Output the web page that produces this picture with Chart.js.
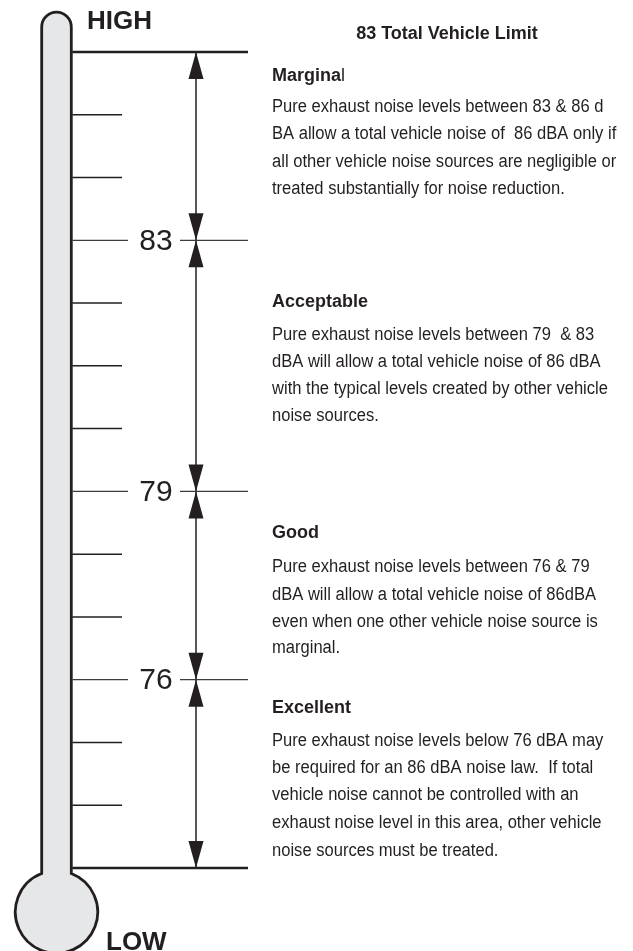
<!DOCTYPE html>
<html><head><meta charset="utf-8">
<script src="https://cdn.jsdelivr.net/npm/chart.js@4.4.1/dist/chart.umd.min.js"></script>
<style>html,body{margin:0;padding:0;background:#fff}#wrap{width:633px;height:951px;position:relative}</style>
</head><body><div id="wrap"><canvas id="c"></canvas></div>
<script>
// ---- data ----
const scaleMax = 86, scaleMin = 73;
const boundaryLevels = [86, 73];
const labeledLevels = [83, 79, 76];
const levelLabels = ['83', '79', '76'];
const minorTicks = [85, 84, 82, 81, 80, 78, 77, 75, 74];
const zoneNames = ['Marginal', 'Acceptable', 'Good', 'Excellent'];
const zoneHigh = [86, 83, 79, 76];
const zoneLow = [83, 79, 76, 73];
const zoneText = [
  ['Pure exhaust noise levels between 83 & 86 d',
   'BA allow a total vehicle noise of  86 dBA only if',
   'all other vehicle noise sources are negligible or',
   'treated substantially for noise reduction.'],
  ['Pure exhaust noise levels between 79  & 83',
   'dBA will allow a total vehicle noise of 86 dBA',
   'with the typical levels created by other vehicle',
   'noise sources.'],
  ['Pure exhaust noise levels between 76 & 79',
   'dBA will allow a total vehicle noise of 86dBA',
   'even when one other vehicle noise source is',
   'marginal.'],
  ['Pure exhaust noise levels below 76 dBA may',
   'be required for an 86 dBA noise law.  If total',
   'vehicle noise cannot be controlled with an',
   'exhaust noise level in this area, other vehicle',
   'noise sources must be treated.']
];
const titleText = '83 Total Vehicle Limit';
const highLabel = 'HIGH', lowLabel = 'LOW';

// ---- layout / style ----
const INK = '#231f20';
const FONT = '"Liberation Sans", Arial, Helvetica, sans-serif';
const X = {tubeL: 41.7, tubeR: 71.3, tickEnd: 122, gapL: 128, labelX: 156, gapR: 180, lineEnd: 248, arrowX: 196, textX: 272, titleX: 447};
const headY = [81, 307, 538, 713];
const bodyY = [[112, 139, 167, 194], [340, 367, 394, 421], [572, 600, 627, 653], [746, 773, 800, 828, 856]];

const datasets = [];
function seg(x1, x2, v, w, color) {
  datasets.push({data: [{x: x1, y: v}, {x: x2, y: v}], borderColor: color, borderWidth: w,
    showLine: true, pointRadius: 0, clip: false, borderCapStyle: 'butt'});
}
minorTicks.forEach(v => seg(X.tubeR + 1, X.tickEnd, v, 1.5, INK));
labeledLevels.forEach(v => { seg(X.tubeR + 1, X.gapL, v, 1.3, '#3c3c3c'); seg(X.gapR, X.lineEnd, v, 1.3, '#3c3c3c'); });
boundaryLevels.forEach(v => seg(X.tubeR + 1, X.lineEnd, v, 2.6, INK));
zoneHigh.forEach((h, i) => datasets.push({data: [{x: X.arrowX, y: h}, {x: X.arrowX, y: zoneLow[i]}],
  borderColor: INK, borderWidth: 1.5, showLine: true, pointRadius: 0, clip: false}));

function txt(ctx, s, x, y, font, sx) {
  ctx.save(); ctx.translate(x, y); ctx.scale(sx, 1); ctx.font = font; ctx.fillText(s, 0, 0); ctx.restore();
}

const thermo = {
  id: 'thermo',
  beforeDatasetsDraw(chart) {
    const ctx = chart.ctx, ys = chart.scales.y;
    const top = ys.getPixelForValue(scaleMax), bot = ys.getPixelForValue(scaleMin);
    const cx = (X.tubeL + X.tubeR) / 2, r = (X.tubeR - X.tubeL) / 2;
    const capY = top - 25, bulbY = bot + 44, bulbR = 41.2;
    const dy = Math.sqrt(bulbR * bulbR - r * r);
    const a1 = Math.atan2(-dy, r), a2 = Math.PI - a1;
    ctx.save();
    ctx.beginPath();
    ctx.moveTo(X.tubeL, capY);
    ctx.arc(cx, capY, r, Math.PI, 0, false);
    ctx.lineTo(X.tubeR, bulbY - dy);
    ctx.arc(cx, bulbY, bulbR, a1, a2 + 0, false);
    ctx.closePath();
    ctx.fillStyle = '#e6e7e9';
    ctx.fill();
    ctx.lineWidth = 2.8; ctx.strokeStyle = INK; ctx.stroke();
    ctx.restore();
  },
  afterDatasetsDraw(chart) {
    const ctx = chart.ctx, ys = chart.scales.y, xs = chart.scales.x;
    const ax = xs.getPixelForValue(X.arrowX);
    ctx.save();
    ctx.fillStyle = INK;
    // arrowheads
    zoneHigh.forEach((h, i) => {
      const yt = ys.getPixelForValue(h), yb = ys.getPixelForValue(zoneLow[i]);
      const L = 27, W = 7.5;
      ctx.beginPath(); ctx.moveTo(ax, yt); ctx.lineTo(ax - W, yt + L); ctx.lineTo(ax + W, yt + L); ctx.closePath(); ctx.fill();
      ctx.beginPath(); ctx.moveTo(ax, yb); ctx.lineTo(ax - W, yb - L); ctx.lineTo(ax + W, yb - L); ctx.closePath(); ctx.fill();
    });
    // level labels
    ctx.font = '30px ' + FONT; ctx.textAlign = 'center'; ctx.textBaseline = 'middle';
    labeledLevels.forEach((v, i) => ctx.fillText(levelLabels[i], xs.getPixelForValue(X.labelX), ys.getPixelForValue(v) + 1));
    // HIGH / LOW
    ctx.textAlign = 'left'; ctx.textBaseline = 'alphabetic';
    ctx.font = 'bold 26px ' + FONT;
    ctx.fillText(highLabel, 87, 29);
    ctx.fillText(lowLabel, 106, 950);
    // title
    ctx.textAlign = 'center';
    ctx.font = 'bold 18px ' + FONT;
    ctx.fillText(titleText, X.titleX, 39);
    ctx.textAlign = 'left';
    // zones
    zoneNames.forEach((name, i) => {
      if (i === 0) {
        ctx.font = 'bold 18px ' + FONT;
        const part = name.slice(0, -1);
        ctx.fillText(part, X.textX, headY[i]);
        const w = ctx.measureText(part).width;
        ctx.font = '18px ' + FONT;
        ctx.fillText(name.slice(-1), X.textX + w, headY[i]);
      } else {
        ctx.font = 'bold 18px ' + FONT;
        ctx.fillText(name, X.textX, headY[i]);
      }
      zoneText[i].forEach((line, j) => txt(ctx, line, X.textX, bodyY[i][j], '18px ' + FONT, 0.92));
    });
    ctx.restore();
  }
};

new Chart(document.getElementById('c'), {
  type: 'scatter',
  data: {datasets},
  options: {
    responsive: true, maintainAspectRatio: false, animation: false, events: [],
    layout: {padding: {top: 52, bottom: 83, left: 0, right: 0}},
    plugins: {legend: {display: false}, tooltip: {enabled: false}},
    scales: {
      x: {type: 'linear', min: 0, max: 633, display: false},
      y: {type: 'linear', min: scaleMin, max: scaleMax, display: false}
    }
  },
  plugins: [thermo]
});
</script></body></html>
